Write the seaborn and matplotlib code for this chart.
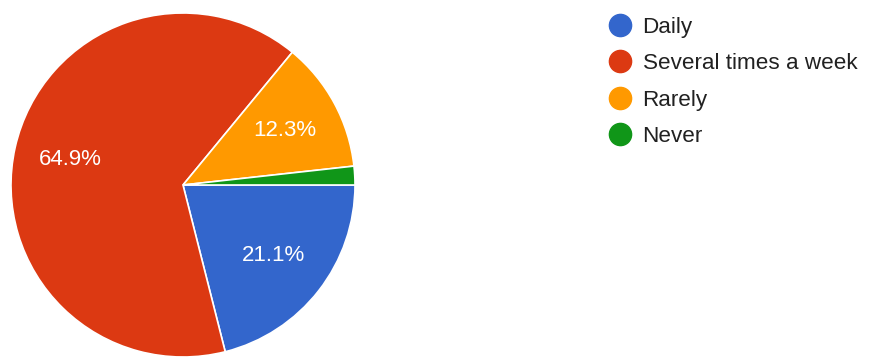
import matplotlib
matplotlib.use("Agg")
import matplotlib.pyplot as plt
from matplotlib.lines import Line2D
import seaborn as sns

categories = ["Daily", "Several times a week", "Rarely", "Never"]
counts = [12, 37, 7, 1]
colors_hex = ["#3366cc", "#dc3912", "#ff9900", "#109618"]

sns.set_theme(style="white")
plt.rcParams["font.family"] = ["Liberation Sans", "DejaVu Sans"]
palette = sns.color_palette(colors_hex)

fig = plt.figure(figsize=(8.7, 3.63), dpi=100)
W, H = 870, 363
cx, cy, r = 183, 185, 172
ax = fig.add_axes([(cx - r) / W, (H - cy - r) / H, 2 * r / W, 2 * r / H])

def fmt(p):
    return f"{p:.1f}%" if p >= 5 else ""

wedges, texts, autotexts = ax.pie(
    counts, colors=palette, startangle=0, counterclock=False,
    autopct=fmt, pctdistance=0.67,
    wedgeprops=dict(edgecolor="white", linewidth=1.2),
    textprops=dict(color="white", fontsize=16),
)
ax.set_xlim(-1, 1)
ax.set_ylim(-1, 1)
ax.set_aspect("equal")

fs = 16.2
handles = [Line2D([0], [0], marker="o", linestyle="", markersize=16,
                  markerfacecolor=c, markeredgecolor=c) for c in palette]
leg = fig.legend(handles, categories, loc="upper left",
                 bbox_to_anchor=(607 / W, 1 - 16.5 / H), frameon=False,
                 fontsize=fs, labelspacing=0.69, handletextpad=0.38,
                 handlelength=1.2, borderaxespad=0, borderpad=0)
for t in leg.get_texts():
    t.set_color("#212121")

fig.savefig("out.png", dpi=100)
